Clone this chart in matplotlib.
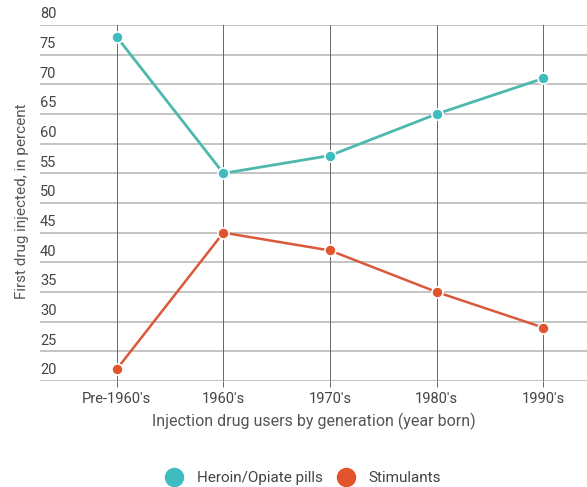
import matplotlib
matplotlib.use("Agg")
import matplotlib.pyplot as plt
from matplotlib.lines import Line2D
import matplotlib.transforms as mtransforms

categories = ["Pre-1960's", "1960's", "1970's", "1980's", "1990's"]
heroin = [78, 55, 58, 65, 71]
stimulants = [22, 45, 42, 35, 29]
yticks = [20, 25, 30, 35, 40, 45, 50, 55, 60, 65, 70, 75, 80]

teal = "#3fbcbf"
teal_line = "#4cb8ae"
orange = "#e2542b"

plt.rcParams['font.family'] = ['Roboto', 'DejaVu Sans']
fig = plt.figure(figsize=(5.87, 4.87), dpi=100)
ax = fig.add_axes([40/587, 1-381/487, 1-40/587, (381-25)/487])
x = list(range(len(categories)))

ax.set_ylim(20, 80)
ax.set_xlim(-0.72, 4.41)
for v in yticks:
    ax.axhline(v, color="#c4c4c4", lw=1.4, zorder=0)
for xi in x:
    ax.axvline(xi, color="#666666", lw=0.7, zorder=0)

ax.plot(x, heroin, color=teal_line, lw=2, marker='o', ms=8, mfc=teal, mec='white', mew=1.2, zorder=3)
ax.plot(x, stimulants, color="#d9593a", lw=1.8, marker='o', ms=8, mfc=orange, mec='white', mew=1.2, zorder=3)

for s in ax.spines.values():
    s.set_visible(False)
ax.set_yticks([])
trans = mtransforms.blended_transform_factory(ax.transAxes, ax.transData)
for v in yticks:
    ax.text(0.0, v + 0.6, str(v), transform=trans, ha='left', va='bottom', fontsize=10.5, color="#444444")

ax.set_xticks(x)
ax.set_xticklabels(categories, fontsize=10.5, color="#444444")
ax.tick_params(axis='x', length=4, width=0.7, color="#666666", pad=4)
ax.set_xlabel("Injection drug users by generation (year born)", fontsize=11.5, color="#555555", labelpad=5)
fig.text(22/587, 1-201/487, "First drug injected, in percent", rotation=90, ha='center', va='center', fontsize=11, color="#555555")

handles = [Line2D([], [], ls='none', marker='o', ms=13, mfc=teal, mec=teal, label='Heroin/Opiate pills'),
           Line2D([], [], ls='none', marker='o', ms=13, mfc=orange, mec=orange, label='Stimulants')]
fig.legend(handles=handles, loc='center', bbox_to_anchor=(300/587, 1-478/487), ncol=2, frameon=False,
           fontsize=11, handletextpad=0.5, columnspacing=0.5, labelcolor="#444444")

fig.savefig("out.png", dpi=100)
